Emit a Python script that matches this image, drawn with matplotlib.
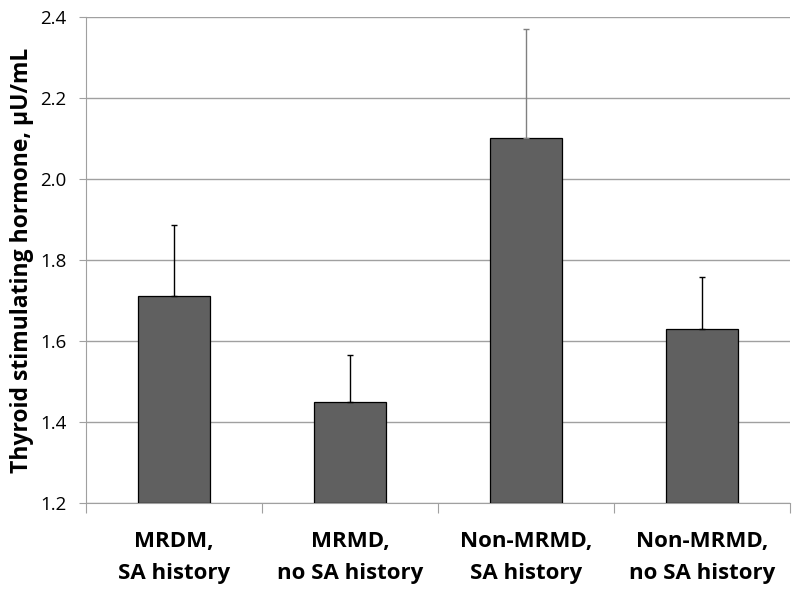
import numpy as np
import matplotlib.pyplot as plt

# --- Daten ---
groups = ["MRDM,\nSA history", "MRMD,\nno SA history", "Non-MRMD,\nSA history", "Non-MRMD,\nno SA history"]
means = [1.71, 1.45, 2.10, 1.63]
errors = [0.177, 0.115, 0.27, 0.128]
err_colors = ["black", "black", "#808080", "black"]
yticks = [1.2, 1.4, 1.6, 1.8, 2.0, 2.2, 2.4]

plt.rcParams['font.family'] = ['Open Sans', 'DejaVu Sans']

fig = plt.figure(figsize=(8, 5.94), dpi=100)
ax = fig.add_axes([0.1075, 0.1532, 0.88, 0.8182])

x = np.arange(len(groups))
ax.bar(x, np.array(means) - 1.2, bottom=1.2, width=0.41, color="#606060",
       edgecolor="black", linewidth=0.9, zorder=3)
for xi, m, e, c in zip(x, means, errors, err_colors):
    ax.errorbar(xi, m, yerr=[[0], [e]], fmt="none", ecolor=c, elinewidth=1.0,
                capsize=2.5, capthick=1.0, zorder=4)

ax.set_xlim(-0.5, len(groups) - 0.5)
ax.set_ylim(1.2, 2.4)
ax.set_yticks(yticks)
ax.set_yticklabels([f"{v:.1f}" for v in yticks], fontsize=13.5)
ax.yaxis.grid(True, color="#a0a0a0", linewidth=1.0, zorder=0)
ax.tick_params(axis="y", length=5, color="#a0a0a0", pad=9)

# Kategoriegrenzen als Ticks, Beschriftung mittig
ax.set_xticks(np.arange(-0.5, len(groups), 1.0))
ax.set_xticklabels([])
ax.set_xticks(x, minor=True)
ax.set_xticklabels(groups, minor=True, fontsize=16, fontweight="bold", linespacing=1.72)
ax.tick_params(axis="x", which="major", length=7, color="#a0a0a0")
ax.tick_params(axis="x", which="minor", length=0, pad=20)

for s in ["top", "right"]:
    ax.spines[s].set_visible(False)
for s in ["left", "bottom"]:
    ax.spines[s].set_color("#a0a0a0")

ax.set_ylabel("Thyroid stimulating hormone, µU/mL", fontsize=16.5, fontweight="bold")
ax.yaxis.set_label_coords(-0.074, 0.5)

fig.savefig("out.png", dpi=100)
